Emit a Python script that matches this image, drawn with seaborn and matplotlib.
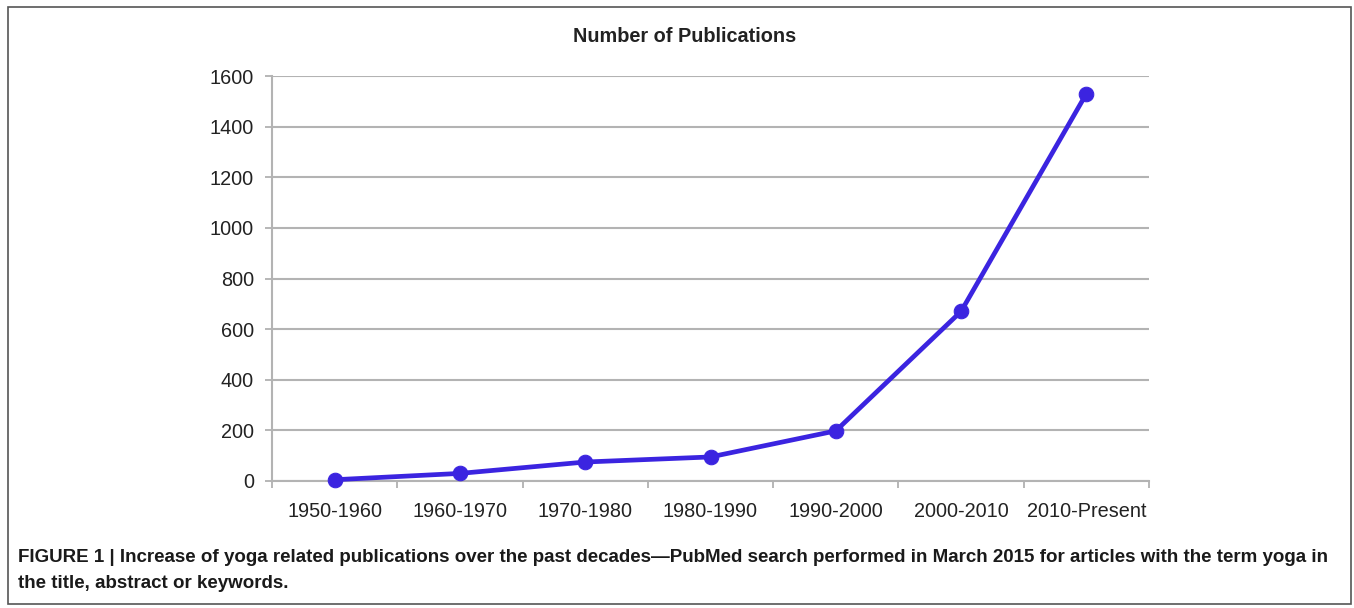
import pandas as pd
import seaborn as sns
import matplotlib
matplotlib.use("Agg")
import matplotlib.pyplot as plt
from matplotlib.patches import Rectangle

decades = ["1950-1960", "1960-1970", "1970-1980", "1980-1990",
           "1990-2000", "2000-2010", "2010-Present"]
publications = [5, 30, 75, 95, 198, 670, 1530]
y_ticks = [0, 200, 400, 600, 800, 1000, 1200, 1400, 1600]

sns.set_style("white")
plt.rcParams["font.family"] = ["Liberation Sans", "DejaVu Sans"]

df = pd.DataFrame({"decade": decades, "count": publications})

fig = plt.figure(figsize=(13.54, 6.08), dpi=100)
ax = fig.add_axes([272 / 1354, 1 - 481 / 608, 877 / 1354, 405 / 608])

sns.lineplot(data=df, x="decade", y="count", ax=ax, color="#3b24e0",
             linewidth=3.4, marker="o", markersize=10.5,
             markeredgecolor="#3b24e0", sort=False, clip_on=False, zorder=5)

ax.set_xlim(-0.5, len(decades) - 0.5)
ax.set_ylim(0, 1600)
ax.set_yticks(y_ticks)
ax.set_yticklabels([str(v) for v in y_ticks])
ax.set_xticks(range(len(decades)))
ax.set_xticklabels(decades)
ax.set_xticks([i - 0.5 for i in range(len(decades) + 1)], minor=True)
ax.tick_params(axis="x", which="major", length=0, pad=15, labelsize=14.3,
               labelcolor="#222222")
ax.tick_params(axis="x", which="minor", length=5, width=1.2, color="#aaaaaa",
               direction="out", bottom=True)
ax.tick_params(axis="y", length=5, width=1.2, color="#aaaaaa", left=True,
               pad=8, labelsize=14.3, labelcolor="#222222")
ax.grid(axis="y", color="#b3b3b3", linewidth=1.5)
ax.set_axisbelow(True)
for side in ["top", "right"]:
    ax.spines[side].set_visible(False)
for side in ["left", "bottom"]:
    ax.spines[side].set_color("#b3b3b3")
    ax.spines[side].set_linewidth(1.5)
ax.set_xlabel("")
ax.set_ylabel("")

fig.text(685 / 1354, 1 - 37 / 608, "Number of Publications", ha="center",
         va="center", fontsize=14.3, fontweight="bold", color="#222222")

cap_font = ["Liberation Sans Narrow", "Liberation Sans", "DejaVu Sans"]
fig.text(18 / 1354, 1 - 558 / 608,
         "FIGURE 1 | Increase of yoga related publications over the past decades\u2014PubMed search performed in March 2015 for articles with the term yoga in",
         ha="left", va="center", fontsize=13.5, fontweight="bold",
         family=cap_font, color="#1a1a1a")
fig.text(18 / 1354, 1 - 583 / 608, "the title, abstract or keywords.",
         ha="left", va="center", fontsize=13.5, fontweight="bold",
         family=cap_font, color="#1a1a1a")

fig.patches.append(Rectangle((8 / 1354, 1 - 604 / 608), 1343 / 1354, 597 / 608,
                             transform=fig.transFigure, fill=False,
                             edgecolor="#555555", linewidth=1.2))

fig.savefig("out.png", dpi=100)
